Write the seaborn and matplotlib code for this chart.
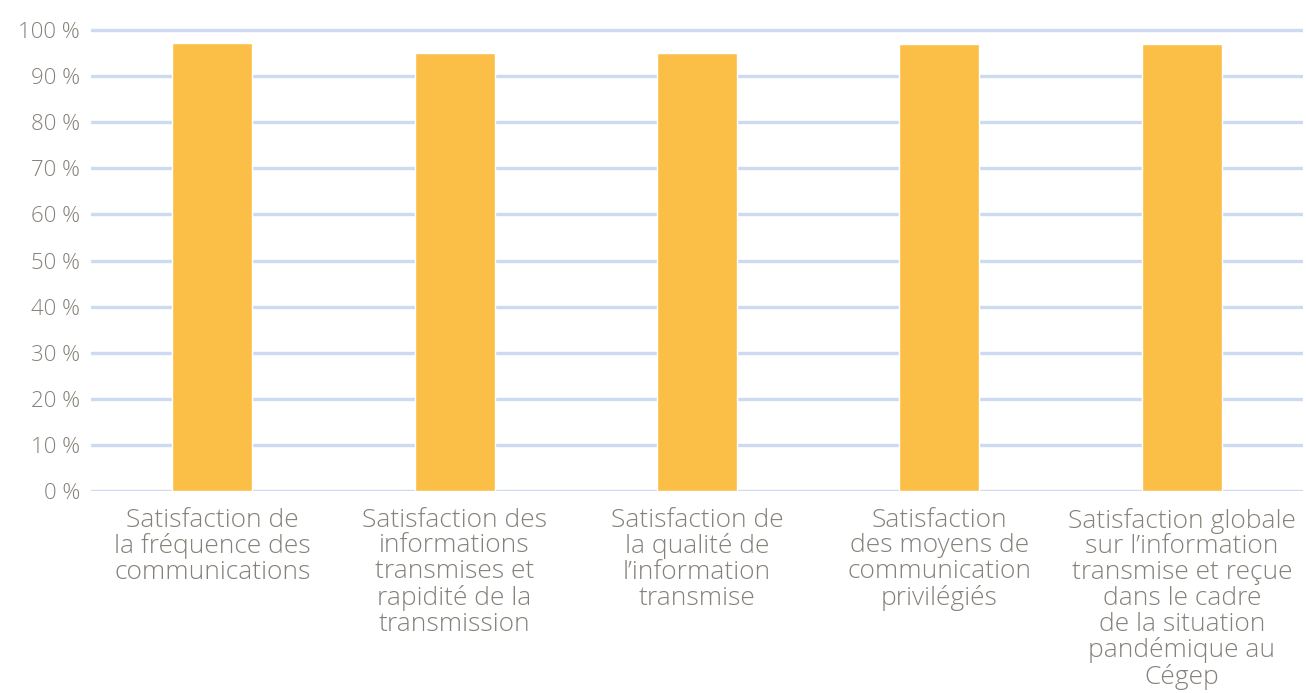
import matplotlib

matplotlib.use("Agg")
import matplotlib.pyplot as plt
import pandas as pd
import seaborn as sns

categories = [
    "Satisfaction de\nla fréquence des\ncommunications",
    "Satisfaction des\ninformations\ntransmises et\nrapidité de la\ntransmission",
    "Satisfaction de\nla qualité de\nl’information\ntransmise",
    "Satisfaction\ndes moyens de\ncommunication\nprivilégiés",
    "Satisfaction globale\nsur l’information\ntransmise et reçue\ndans le cadre\nde la situation\npandémique au\nCégep",
]
values = [97.2, 95.0, 95.0, 97.0, 97.0]
yticks = list(range(0, 101, 10))

sns.set_theme(style="white")
plt.rcParams["font.family"] = ["Open Sans", "DejaVu Sans"]

df = pd.DataFrame({"cat": categories, "val": values})

fig = plt.figure(figsize=(13.06, 6.93), dpi=100)
ax = fig.add_axes([0.0697, 0.2915, 0.928, 0.6725])
sns.barplot(data=df, x="cat", y="val", ax=ax, color="#FBBE46",
            width=0.33, saturation=1, zorder=3)

ax.set_ylim(0, 101.1)
ax.set_xlim(-0.5, len(categories) - 0.5)
ax.set_yticks(yticks)
ax.set_yticklabels([f"{t} %" for t in yticks])
ax.yaxis.grid(True, color="#CCDAF2", lw=2.4, zorder=0)
ax.xaxis.grid(False)
for s in ax.spines.values():
    s.set_visible(False)
ax.tick_params(axis="y", length=0, pad=8, labelsize=16, labelcolor="#858079")
ax.tick_params(axis="x", length=0, pad=12, labelsize=19, labelcolor="#858079")
for lbl in ax.get_xticklabels() + ax.get_yticklabels():
    lbl.set_fontweight("light")
for lbl in ax.get_xticklabels():
    lbl.set_linespacing(1.04)
ax.set_xlabel("")
ax.set_ylabel("")

fig.savefig("out.png", dpi=100)
